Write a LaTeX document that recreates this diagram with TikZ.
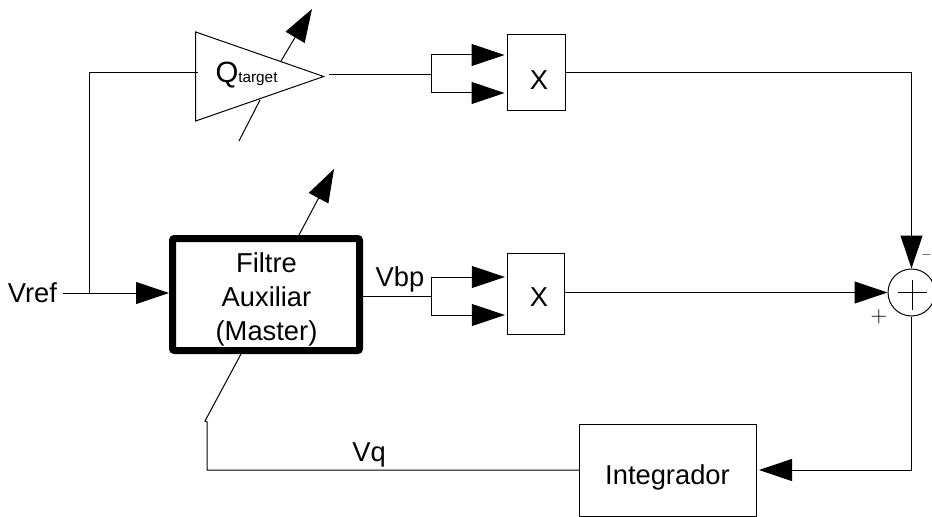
\documentclass[tikz,border=0pt]{standalone}
\usepackage{fontspec}
\setmainfont{Liberation Sans}
\usetikzlibrary{arrows.meta,positioning,shapes.geometric}

\begin{document}
\begin{tikzpicture}[x=.75pt,y=-.75pt,>={Triangle[length=24.75pt,width=16.5pt]},line width=.75pt,
  txt/.style={inner sep=0pt,font=\fontsize{20.5}{25.5}\selectfont},
  block/.style={draw,inner sep=0pt},
  sign/.style={inner sep=0pt,font=\fontsize{18}{18}\selectfont}]
\useasboundingbox (0,0) rectangle (932,517);
% blocks
\node (Amp) [draw,isosceles triangle,isosceles triangle stretches,inner sep=0pt,minimum width=66.75pt,minimum height=96pt,anchor=apex] at (325,76.5) {};
\node (Master) [block,line width=5.25pt,rounded corners=1.5pt,minimum width=140.25pt,minimum height=84pt] at (266,294.5) {};
\node (X1) [block,minimum width=43.5pt,minimum height=57pt] at (536,73) {};
\node (X2) [block,minimum width=43pt,minimum height=60.75pt,node distance=165.75pt,below of=X1] {};
\node (Int) [block,minimum width=132.75pt,minimum height=69pt] at (668,470) {};
\node (Sum) [draw,circle,inner sep=0pt,minimum size=35.25pt] at (911.5,292.5) {};
% labels
\node (QLabel) [txt,anchor=base west] at (215,83) {\fontsize{22}{25}\selectfont Q\fontsize{11.5}{12}\selectfont target};
\node (MasterLabel) [txt,align=center] at (266.5,299) {Filtre\\Auxiliar\\(Master)};
\node (X1Label) [txt] at (539,80) {X};
\node (X2Label) [txt] at (539,297) {X};
\node (IntLabel) [txt,anchor=base] at (667.5,484) {Integrador};
\node (Vref) [txt,anchor=base east] at (57.5,302) {Vref};
\node (Vbp) [txt,anchor=base] at (400,286) {Vbp};
\node (Vq) [txt,anchor=base] at (369,461) {Vq};
\node (Minus) [sign,font=\fontsize{10}{10}\selectfont] at (926.5,255) {$-$};
\node (Plus) [sign] at (879,317) {$+$};
% free ends
\coordinate (VrefOut) at (63,293);
\coordinate (InTop) at (198,73);
\coordinate (InCorner) at (89,73);
\coordinate (InJoin) at (89,293);
\coordinate (OutAmp) at (329,75);
\coordinate (Fork1) at (431,75);
\coordinate (Fork2) at (431,296);
\coordinate (TuneA) at (281,61);
\coordinate (TuneB) at (312,9);
\coordinate (TuneC) at (239,141);
\coordinate (TuneD) at (260,100);
\coordinate (TuneE) at (299,235);
\coordinate (TuneF) at (334,169);
\coordinate (TuneG) at (241,354);
\coordinate (TuneH) at (205,421);
\coordinate (VqEnd) at (207,422);
% connectors
\draw (InTop) -- (InCorner) -- (InJoin);
\draw[->] (VrefOut) -- (VrefOut -| Master.west);
\draw (OutAmp) -- (Fork1);
\draw (Master.east |- Fork2) -- (Fork2);
\draw[->] (Fork1) |- ([xshift=-1.5pt,yshift=13.5pt]X1.west);
\draw[->] (Fork1) |- ([xshift=-1.5pt,yshift=-15pt]X1.west);
\draw[->] (Fork2) |- ([xshift=-1.5pt,yshift=12.75pt]X2.west);
\draw[->] (Fork2) |- ([xshift=-1.5pt,yshift=-15.75pt]X2.west);
\draw[->] (X1.east) -| (Sum.north);
\draw[->] (X2.east |- Sum.west) -- (Sum.west);
\draw[->] (Sum.south) |- ([xshift=1.5pt]Int.east);
\draw (Int.west) -| (VqEnd) -- (TuneH) -- (TuneG);
\draw[->] (TuneA) -- (TuneB);
\draw (TuneC) -- (TuneD);
\draw[->] (TuneE) -- (TuneF);
% summer cross
\draw (Sum.center) ++(-13.5,0) -- ++(29,0);
\draw (Sum.center) ++(.5,-13) -- ++(0,30);
\end{tikzpicture}
\end{document}
